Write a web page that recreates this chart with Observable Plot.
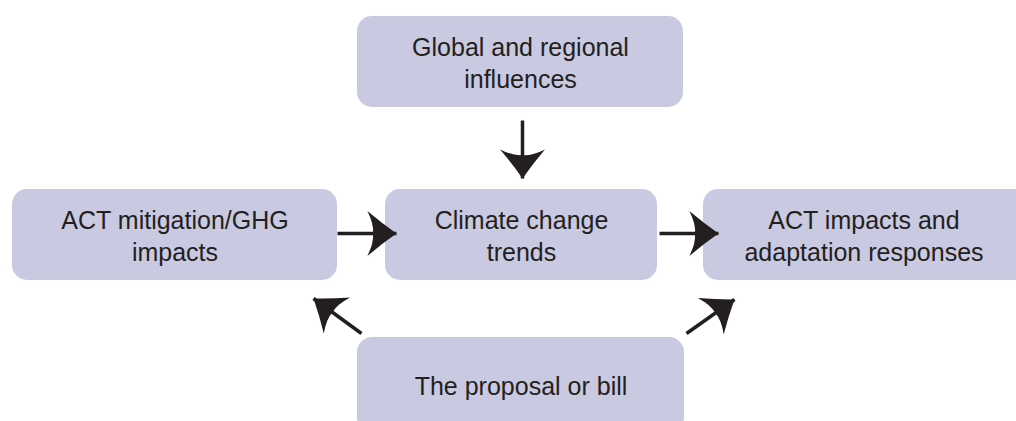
<!DOCTYPE html>
<html>
<head>
<meta charset="utf-8">
<script src="https://cdn.jsdelivr.net/npm/d3@7"></script>
<script src="https://cdn.jsdelivr.net/npm/@observablehq/plot@0.6"></script>
<style>
  html, body { margin: 0; padding: 0; background: #ffffff; overflow: hidden; }
  #chart svg { overflow: hidden; display: block; }
</style>
</head>
<body>
<div id="chart"></div>
<script>
// Boxes of the diagram
const boxLabels = [
  "Global and regional\ninfluences",
  "ACT mitigation/GHG\nimpacts",
  "Climate change\ntrends",
  "ACT impacts and\nadaptation responses",
  "The proposal or bill"
];
const boxX1 = [357, 12, 385, 703, 357];
const boxX2 = [683, 337, 657, 1030, 684];
const boxY1 = [16, 189, 189, 189, 337];
const boxY2 = [107, 280, 280, 280, 432];

// Arrows (start -> tip)
const arrowX1 = [522, 337, 659, 361, 686];
const arrowY1 = [120, 233, 233, 333, 333];
const arrowX2 = [522, 396, 718, 313, 734];
const arrowY2 = [178, 233, 233, 298, 299];

const boxes = boxLabels.map((label, i) => ({
  label, x1: boxX1[i], x2: boxX2[i], y1: boxY1[i], y2: boxY2[i],
  cx: (boxX1[i] + Math.min(boxX2[i], 1016)) / 2 + (boxX2[i] > 1016 ? 4 : 0),
  cy: (boxY1[i] + boxY2[i]) / 2
}));
const arrows = arrowX1.map((x1, i) => ({
  x1, y1: arrowY1[i], x2: arrowX2[i], y2: arrowY2[i],
  angle: Math.atan2(arrowX2[i] - x1, -(arrowY2[i] - arrowY1[i])) * 180 / Math.PI
}));

// Swept arrowhead, tip at origin pointing up
const head = {
  draw(context, size) {
    const s = Math.sqrt(size / Math.PI) / 25;
    context.moveTo(0, 0);
    context.quadraticCurveTo(9 * s, 13 * s, 20 * s, 26 * s);
    context.quadraticCurveTo(8 * s, 20 * s, 0, 21 * s);
    context.quadraticCurveTo(-8 * s, 20 * s, -20 * s, 26 * s);
    context.quadraticCurveTo(-9 * s, 13 * s, 0, 0);
    context.closePath();
  }
};

const ink = "#231f20";
const chart = Plot.plot({
  width: 1016,
  height: 421,
  margin: 0,
  x: {domain: [0, 1016], range: [0, 1016], axis: null},
  y: {domain: [0, 421], range: [0, 421], axis: null},
  style: {background: "#ffffff", fontFamily: "'Liberation Sans', Arial, sans-serif"},
  marks: [
    Plot.rect(boxes, {x1: "x1", x2: "x2", y1: "y1", y2: "y2", rx: 15, fill: "#c9c9e1"}),
    Plot.text(boxes, {
      x: "cx", y: "cy", text: "label", fontSize: 25, lineHeight: 1.28,
      fill: ink, textAnchor: "middle", lineAnchor: "middle"
    }),
    Plot.link(arrows, {x1: "x1", y1: "y1", x2: "x2", y2: "y2", stroke: ink, strokeWidth: 3.5, strokeLinecap: "butt"}),
    Plot.dot(arrows, {x: "x2", y: "y2", rotate: "angle", symbol: head, r: 28, fill: ink, stroke: "none"})
  ]
});
document.getElementById("chart").appendChild(chart);
</script>
</body>
</html>
